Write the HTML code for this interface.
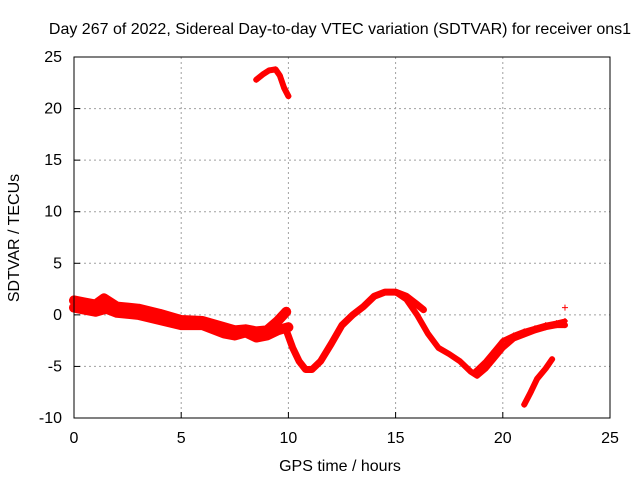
<!DOCTYPE html>
<html><head><meta charset="utf-8"><style>
body{margin:0;background:#fff;}
svg text{font-family:"Liberation Sans",sans-serif;font-size:16px;fill:#000;}
</style></head><body>
<svg id="chart" width="640" height="480" xmlns="http://www.w3.org/2000/svg">
<text x="340" y="34" text-anchor="middle">Day 267 of 2022, Sidereal Day-to-day VTEC variation (SDTVAR) for receiver ons1</text>
<text x="340" y="471" text-anchor="middle">GPS time / hours</text>
<text transform="translate(19,238) rotate(-90)" text-anchor="middle">SDTVAR / TECUs</text>
<g id="grid"></g>
<g id="marks"></g>
<rect x="74" y="57" width="536" height="361" fill="none" stroke="#000" stroke-width="1"/>
<g id="ticks"></g>
</svg>
<script>
const xTicks=[0,5,10,15,20,25];
const yTicks=[-10,-5,0,5,10,15,20,25];
const bandAx=[0,0.5,1,1.4,2,3,4,5,6,7,7.5,8,8.5,9,9.5,9.9];
const bandAy=[1.4,1.2,1.0,1.6,0.8,0.6,0.1,-0.5,-0.6,-1.2,-1.5,-1.4,-1.6,-1.5,-0.6,0.3];
const bandBx=[0,0.5,1,1.5,2,3,4,5,6,7,7.5,8,8.5,9,9.5,10];
const bandBy=[0.7,0.5,0.3,0.6,0.2,0.0,-0.5,-1.0,-1.0,-1.8,-2.0,-1.7,-2.2,-2.0,-1.5,-1.2];
const topX=[8.5,8.8,9.1,9.4,9.6,9.8,10];
const topY=[22.8,23.3,23.7,23.8,23.2,22.0,21.2];
const midX=[9.9,10.2,10.5,10.8,11.1,11.5,12,12.5,13,13.5,14,14.5,15,15.5,16,16.3];
const midY=[-1.5,-3.2,-4.5,-5.3,-5.3,-4.5,-2.8,-1.0,0.0,0.8,1.8,2.2,2.2,1.8,1.0,0.5];
const downX=[15,15.5,16,16.5,17,17.5,18,18.5,18.8,19.2,19.6,20,20.5,21,21.5,22,22.5,22.9];
const downY=[2.2,1.5,0,-1.8,-3.2,-3.8,-4.5,-5.5,-5.9,-5.2,-4.2,-3.2,-2.3,-1.9,-1.5,-1.2,-1.0,-1.0];
const down2X=[18.7,19.2,19.6,20,20.5,21,21.5,22,22.5,22.9];
const down2Y=[-5.5,-4.5,-3.5,-2.5,-2.0,-1.6,-1.3,-1.0,-0.8,-0.6];
const lowX=[21,21.3,21.6,22,22.3];
const lowY=[-8.7,-7.5,-6.2,-5.2,-4.3];
const strayX=[22.9];
const strayY=[0.7];
const X=v=>74+v*536/25, Y=v=>418-(v+10)*361/35;
const NS='http://www.w3.org/2000/svg';
const grid=document.getElementById('grid'),ticks=document.getElementById('ticks'),marks=document.getElementById('marks');
function mk(tag,a,p){const e=document.createElementNS(NS,tag);for(const k in a)e.setAttribute(k,a[k]);p.appendChild(e);return e;}
xTicks.forEach(t=>{
 if(t>0&&t<25){const g=mk('line',{x1:X(t),x2:X(t),y1:57,y2:418,stroke:'#a0a0a0','stroke-dasharray':'2,3'},grid);
 
 }
 mk('line',{x1:X(t),x2:X(t),y1:418,y2:412,stroke:'#000'},ticks);
 const l=mk('text',{x:X(t),y:443,'text-anchor':'middle'},ticks);l.textContent=t;
 
 
});
yTicks.forEach(t=>{
 if(t>-10&&t<25){const g=mk('line',{x1:74,x2:610,y1:Y(t),y2:Y(t),stroke:'#a0a0a0','stroke-dasharray':'2,3'},grid);
 
 }
 mk('line',{x1:74,x2:80,y1:Y(t),y2:Y(t),stroke:'#000'},ticks);
 const l=mk('text',{x:62,y:Y(t)+5,'text-anchor':'end'},ticks);l.textContent=t;
 
 
});
function series(xs,ys,w,name){
 const pl=mk('polyline',{points:xs.map((x,i)=>X(x)+','+Y(ys[i])).join(' '),fill:'none',stroke:'#f00','stroke-width':w,'stroke-linejoin':'round','stroke-linecap':'round'},marks);
 
 
 xs.forEach((x,i)=>{const px=X(x),py=Y(ys[i]);
  const m=mk('path',{d:`M${px-3},${py}h6M${px},${py-3}v6`,stroke:'#f00','stroke-width':1},marks);
  
  });
}
series(bandAx,bandAy,10,'series-band-a');
series(bandBx,bandBy,10,'series-band-b');
series(topX,topY,6,'series-top-arc');
series(midX,midY,7,'series-mid-arc');
series(downX,downY,6,'series-descent');
series(down2X,down2Y,5,'series-descent-2');
series(lowX,lowY,6,'series-low-rise');
series(strayX,strayY,1,'series-stray');
</script>
</body></html>
